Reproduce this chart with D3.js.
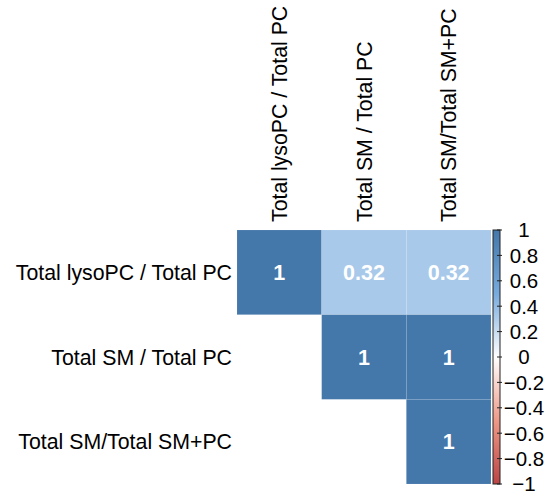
<!DOCTYPE html>
<html>
<head>
<meta charset="utf-8">
<script src="https://cdn.jsdelivr.net/npm/d3@7"></script>
<style>
  body { margin: 0; background: #fff; }
  text { font-family: "Liberation Sans", Arial, sans-serif; }
</style>
</head>
<body>
<svg class="chart"></svg>
<script>
// variables and correlation values (upper triangle only)
var vars = ["Total lysoPC / Total PC", "Total SM / Total PC", "Total SM/Total SM+PC"]
var corRow1 = [1, 0.32, 0.32]
var corRow2 = [null, 1, 1]
var corRow3 = [null, null, 1]
var legendTicks = [-1, -0.8, -0.6, -0.4, -0.2, 0, 0.2, 0.4, 0.6, 0.8, 1]
var palette = ["#BB4444", "#EE9988", "#FFFFFF", "#77AADD", "#4477AA"]
var paletteStops = [-1, -0.5, 0, 0.5, 1]

var width = 553, height = 495
var grid = {left: 237, top: 230, right: 491, bottom: 484}

var svg = d3.select(".chart")
    .attr("width", width)
    .attr("height", height)

var x = d3.scaleBand().domain(vars).range([grid.left, grid.right])
var y = d3.scaleBand().domain(vars).range([grid.top, grid.bottom])
var color = d3.scaleLinear().domain(paletteStops).range(palette)

var cells = []
;[corRow1, corRow2, corRow3].forEach(function(row, i) {
    row.forEach(function(v, j) {
        if (v !== null) cells.push({row: vars[i], col: vars[j], value: v})
    })
})

svg.selectAll(".cell")
    .data(cells)
    .enter().append("rect")
    .attr("class", "cell")
    .attr("x", d => x(d.col))
    .attr("y", d => y(d.row))
    .attr("width", x.bandwidth())
    .attr("height", y.bandwidth())
    .attr("fill", d => color(d.value))
    .attr("stroke", "#ffffff")
    .attr("stroke-opacity", 0.2)
    .attr("stroke-width", 0.5)

svg.selectAll(".val")
    .data(cells)
    .enter().append("text")
    .attr("class", "val")
    .attr("x", d => x(d.col) + x.bandwidth() / 2)
    .attr("y", d => y(d.row) + y.bandwidth() / 2)
    .attr("dy", "0.36em")
    .attr("text-anchor", "middle")
    .attr("fill", "#fff")
    .attr("font-weight", "bold")
    .attr("font-size", 21.5)
    .text(d => d.value)

// row labels
svg.selectAll(".rowlab")
    .data(vars)
    .enter().append("text")
    .attr("class", "rowlab")
    .attr("x", grid.left - 5)
    .attr("y", d => y(d) + y.bandwidth() / 2)
    .attr("dy", "0.36em")
    .attr("text-anchor", "end")
    .attr("font-size", 21.3)
    .attr("fill", "#000")
    .text(d => d)

// column labels, rotated
svg.selectAll(".collab")
    .data(vars)
    .enter().append("text")
    .attr("class", "collab")
    .attr("transform", d => "translate(" + (x(d) + x.bandwidth() / 2) + "," + (grid.top - 8) + ") rotate(-90)")
    .attr("dy", "0.36em")
    .attr("text-anchor", "start")
    .attr("font-size", 21.3)
    .attr("fill", "#000")
    .text(d => d)

// colour legend
var bar = {x: 493, w: 7}
var ly = d3.scaleLinear().domain([-1, 1]).range([grid.bottom, grid.top])

var grad = svg.append("defs").append("linearGradient")
    .attr("id", "grad")
    .attr("x1", 0).attr("x2", 0).attr("y1", 1).attr("y2", 0)
grad.selectAll("stop")
    .data(d3.range(0, 1.0001, 0.05))
    .enter().append("stop")
    .attr("offset", d => d)
    .attr("stop-color", d => color(d * 2 - 1))

svg.append("rect")
    .attr("x", bar.x)
    .attr("y", grid.top)
    .attr("width", bar.w)
    .attr("height", grid.bottom - grid.top)
    .attr("fill", "url(#grad)")
    .attr("stroke", "#222")
    .attr("stroke-width", 1)

svg.selectAll(".ltick")
    .data(legendTicks)
    .enter().append("line")
    .attr("class", "ltick")
    .attr("x1", bar.x + bar.w - 3)
    .attr("x2", bar.x + bar.w + 2)
    .attr("y1", d => ly(d))
    .attr("y2", d => ly(d))
    .attr("stroke", "#222")
    .attr("stroke-width", 1)

svg.selectAll(".llab")
    .data(legendTicks)
    .enter().append("text")
    .attr("class", "llab")
    .attr("x", 524)
    .attr("y", d => ly(d))
    .attr("dy", "0.36em")
    .attr("text-anchor", "middle")
    .attr("font-size", 20.5)
    .attr("fill", "#000")
    .text(d => d3.format("")(d))
</script>
</body>
</html>
